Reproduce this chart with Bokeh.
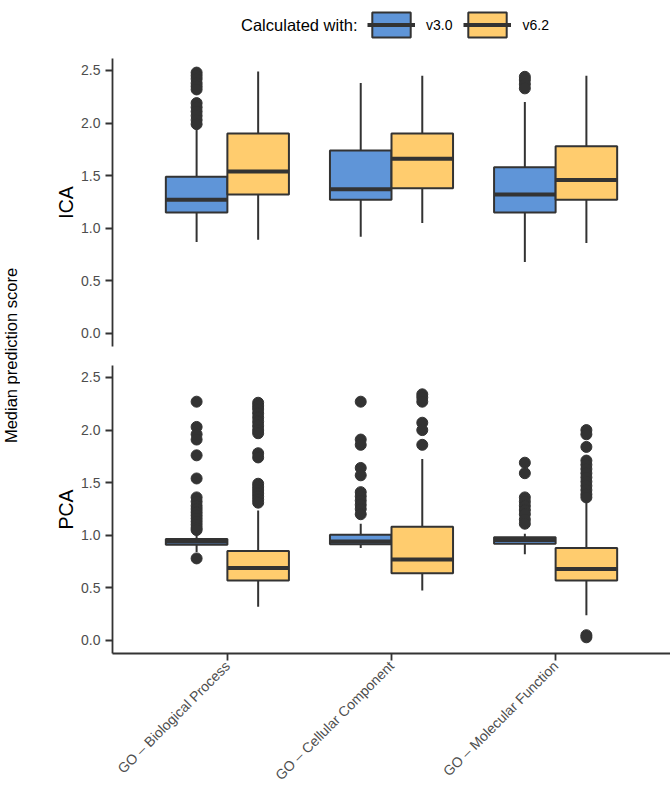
from math import pi
from bokeh.plotting import figure
from bokeh.models import (ColumnDataSource, FactorRange, FixedTicker, PrintfTickFormatter,
                          Legend, LegendItem, Label, Range1d)
from bokeh.transform import dodge
from bokeh.layouts import row, column
from bokeh.embed import file_html
from bokeh.resources import INLINE

categories = ["GO – Biological Process", "GO – Cellular Component", "GO – Molecular Function"]
versions = ["v3.0", "v6.2"]
y_ticks = [0.0, 0.5, 1.0, 1.5, 2.0, 2.5]
legend_title = "Calculated with:"

# ---- ICA panel ----
ica_v30_lower = [0.87, 0.92, 0.68]
ica_v30_q1 = [1.15, 1.27, 1.15]
ica_v30_median = [1.27, 1.37, 1.32]
ica_v30_q3 = [1.49, 1.74, 1.58]
ica_v30_upper = [1.94, 2.38, 2.20]
ica_v30_outliers = [
    [2.48, 2.45, 2.42, 2.38, 2.35, 2.32, 2.19, 2.15, 2.11, 2.07, 2.03, 1.99],
    [],
    [2.44, 2.41, 2.37, 2.33],
]
ica_v62_lower = [0.89, 1.05, 0.86]
ica_v62_q1 = [1.32, 1.38, 1.27]
ica_v62_median = [1.54, 1.66, 1.46]
ica_v62_q3 = [1.90, 1.90, 1.78]
ica_v62_upper = [2.49, 2.45, 2.45]
ica_v62_outliers = [[], [], []]

# ---- PCA panel ----
pca_v30_lower = [0.84, 0.88, 0.82]
pca_v30_q1 = [0.91, 0.915, 0.92]
pca_v30_median = [0.94, 0.94, 0.955]
pca_v30_q3 = [0.965, 1.005, 0.98]
pca_v30_upper = [1.02, 1.11, 1.015]
pca_v30_outliers = [
    [2.27, 2.03, 1.96, 1.91, 1.76, 1.54, 1.36, 1.32, 1.28, 1.25, 1.22, 1.19, 1.16,
     1.13, 1.10, 1.07, 1.05, 0.78],
    [2.27, 1.91, 1.86, 1.64, 1.57, 1.41, 1.37, 1.33, 1.29, 1.25, 1.20],
    [1.69, 1.59, 1.36, 1.32, 1.28, 1.24, 1.20, 1.15, 1.11],
]
pca_v62_lower = [0.32, 0.475, 0.24]
pca_v62_q1 = [0.57, 0.64, 0.57]
pca_v62_median = [0.69, 0.77, 0.68]
pca_v62_q3 = [0.85, 1.08, 0.88]
pca_v62_upper = [1.235, 1.725, 1.33]
pca_v62_outliers = [
    [2.26, 2.23, 2.20, 2.16, 2.12, 2.08, 2.04, 2.00, 1.97, 1.78, 1.74, 1.49, 1.46,
     1.43, 1.40, 1.37, 1.34, 1.31],
    [2.34, 2.31, 2.27, 2.07, 2.00, 1.86],
    [2.00, 1.96, 1.84, 1.71, 1.67, 1.63, 1.59, 1.55, 1.51, 1.47, 1.43, 1.39, 1.36,
     0.05, 0.03],
]

colors = {"v3.0": "#5F95D8", "v6.2": "#FFCC6E"}
offsets = {"v3.0": -0.1875, "v6.2": 0.1875}
box_w = 0.375
dark = "#333333"
FONT = "Liberation Sans"
Y_LO, Y_HI = -0.124, 2.614


def style(p, label):
    p.outline_line_color = None
    p.xgrid.visible = False
    p.ygrid.visible = False
    p.background_fill_color = "white"
    ax = p.yaxis[0]
    ax.ticker = FixedTicker(ticks=y_ticks)
    ax.formatter = PrintfTickFormatter(format="%.1f")
    ax.axis_label = label
    ax.axis_label_text_font = FONT
    ax.axis_label_text_font_size = "19.5px"
    ax.axis_label_text_font_style = "normal"
    ax.axis_label_text_color = "black"
    ax.axis_label_standoff = 1
    ax.major_label_text_font = FONT
    ax.major_label_text_font_size = "14px"
    ax.major_label_text_color = "#4D4D4D"
    ax.major_label_standoff = 5
    ax.axis_line_color = dark
    ax.axis_line_width = 1.8
    ax.major_tick_line_color = dark
    ax.major_tick_line_width = 1.8
    ax.major_tick_in = 0
    ax.major_tick_out = 7
    ax.minor_tick_line_color = None


def box_glyphs(p, src, v):
    off = offsets[v]
    b = p.vbar(x=dodge("cat", off, range=p.x_range), bottom="q1", top="q3",
               width=box_w, source=src, fill_color=colors[v], line_color=dark,
               line_width=2)
    m = p.segment(x0=dodge("cat", off - box_w / 2, range=p.x_range), y0="med",
                  x1=dodge("cat", off + box_w / 2, range=p.x_range), y1="med",
                  source=src, line_color=dark, line_width=4)
    return b, m


def draw(p, stats, outliers):
    sources = {}
    for v in versions:
        lower, q1, med, q3, upper = stats[v]
        src = ColumnDataSource(dict(cat=categories, lower=lower, q1=q1, med=med,
                                    q3=q3, upper=upper))
        ocat, oy = [], []
        for c, vals in zip(categories, outliers[v]):
            ocat += [c] * len(vals)
            oy += vals
        osrc = ColumnDataSource(dict(cat=ocat, y=oy))
        off = offsets[v]
        xc = dodge("cat", off, range=p.x_range)
        p.scatter(x=dodge("cat", off, range=p.x_range), y="y", source=osrc, size=11,
                  color=dark, line_color=dark)
        p.segment(x0=xc, y0="q3", x1=xc, y1="upper", source=src, line_color=dark,
                  line_width=2)
        p.segment(x0=xc, y0="q1", x1=xc, y1="lower", source=src, line_color=dark,
                  line_width=2)
        box_glyphs(p, src, v)
        sources[v] = src
    return sources


def make_range():
    return FactorRange(factors=categories, range_padding=0.2,
                       range_padding_units="absolute")


ica_stats = {"v3.0": (ica_v30_lower, ica_v30_q1, ica_v30_median, ica_v30_q3, ica_v30_upper),
             "v6.2": (ica_v62_lower, ica_v62_q1, ica_v62_median, ica_v62_q3, ica_v62_upper)}
pca_stats = {"v3.0": (pca_v30_lower, pca_v30_q1, pca_v30_median, pca_v30_q3, pca_v30_upper),
             "v6.2": (pca_v62_lower, pca_v62_q1, pca_v62_median, pca_v62_q3, pca_v62_upper)}

main_w = 650
frame_h = 288
head_h = 58

# ---- ICA ----
p1 = figure(width=main_w, height=frame_h + 9, x_range=make_range(),
            y_range=Range1d(Y_LO, Y_HI),
            x_axis_location=None, toolbar_location=None, output_backend="svg",
            min_border_left=92, min_border_right=0, min_border_top=0, min_border_bottom=9)
style(p1, "ICA")
ica_sources = draw(p1, ica_stats, {"v3.0": ica_v30_outliers, "v6.2": ica_v62_outliers})

# ---- legend header: hidden proxy glyphs of the same boxes supply the legend keys ----
head = figure(width=main_w, height=head_h, x_range=make_range(), y_range=Range1d(10, 11),
              toolbar_location=None, output_backend="svg", min_border=0,
              x_axis_location=None, y_axis_location=None)
head.outline_line_color = None
head.xgrid.visible = False
head.ygrid.visible = False
items = []
for v in versions:
    rs = list(box_glyphs(head, ica_sources[v], v))
    for r in rs:
        r.visible = False
    items.append(LegendItem(label=v, renderers=rs))
legend = Legend(items=items, orientation="horizontal", location=(255, 18))
legend.label_text_font = FONT
legend.label_text_font_size = "14px"
legend.label_text_color = "black"
legend.glyph_width = 48
legend.glyph_height = 31
legend.label_standoff = 11
legend.spacing = 11
legend.padding = 0
legend.margin = 0
legend.border_line_color = None
legend.background_fill_alpha = 0
legend.inactive_fill_alpha = 0
head.add_layout(legend, "center")
head.add_layout(Label(x=245, y=head_h - 24.5, x_units="screen", y_units="screen",
                      text=legend_title, text_align="right", text_baseline="middle",
                      text_font=FONT, text_font_size="16.5px", text_color="black"))

# ---- PCA ----
p2 = figure(width=main_w, height=10 + frame_h + 138, x_range=make_range(),
            y_range=Range1d(Y_LO, Y_HI),
            toolbar_location=None, output_backend="svg",
            min_border_left=92, min_border_right=0, min_border_top=10, min_border_bottom=138)
style(p2, "PCA")
draw(p2, pca_stats, {"v3.0": pca_v30_outliers, "v6.2": pca_v62_outliers})
xa = p2.xaxis[0]
xa.major_label_orientation = pi / 4
xa.major_label_text_font = FONT
xa.major_label_text_font_size = "14px"
xa.major_label_text_color = "#4D4D4D"
xa.axis_line_color = dark
xa.axis_line_width = 1.8
xa.major_tick_line_color = dark
xa.major_tick_line_width = 1.8
xa.major_tick_in = 0
xa.major_tick_out = 7
xa.major_label_standoff = 3

total_h = head.height + p1.height + p2.height
lab = figure(width=20, height=total_h, x_range=(0, 1), y_range=(0, 1), toolbar_location=None,
             output_backend="svg", min_border=0, x_axis_location=None, y_axis_location=None)
lab.outline_line_color = None
lab.xgrid.visible = False
lab.ygrid.visible = False
lab.add_layout(Label(x=10, y=total_h - 355, x_units="screen", y_units="screen", angle=pi / 2,
                     text="Median prediction score", text_align="center",
                     text_baseline="middle", text_font=FONT, text_font_size="16.5px",
                     text_color="black"))

layout = row(lab, column(head, p1, p2))
open("out.html", "w").write(file_html(layout, INLINE))
